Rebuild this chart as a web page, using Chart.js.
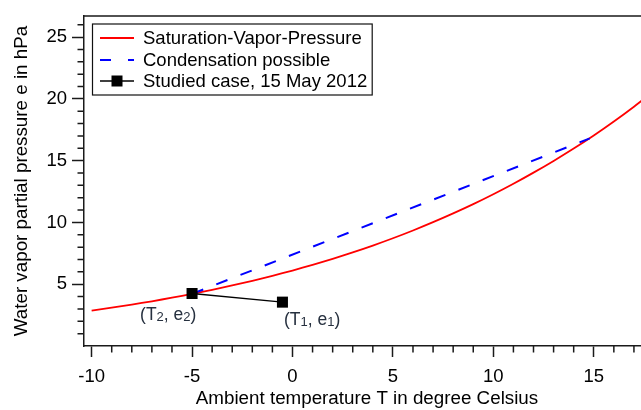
<!DOCTYPE html>
<html>
<head>
<meta charset="utf-8">
<script src="https://cdn.jsdelivr.net/npm/chart.js@4/dist/chart.umd.min.js"></script>
<style>
  html, body { margin: 0; padding: 0; background: #fff; overflow: hidden; }
  #wrap { width: 660px; height: 410px; }
</style>
</head>
<body>
<div id="wrap"><canvas id="myChart" width="660" height="410"></canvas></div>
<script>
// temperature (deg C) and saturation vapour pressure (hPa)
const satTemp = [-10, -9, -8, -7, -6, -5, -4, -3, -2, -1, 0, 1, 2, 3, 4, 5, 6, 7, 8, 9, 10, 11, 12, 13, 14, 15, 16, 17, 18];
const satPress = [2.86, 3.1, 3.35, 3.62, 3.91, 4.22, 4.55, 4.9, 5.28, 5.68, 6.11, 6.57, 7.06, 7.58, 8.13, 8.72, 9.35, 10.02, 10.73, 11.48, 12.28, 13.13, 14.03, 14.98, 15.98, 17.04, 18.17, 19.37, 20.63];

// condensation line, from the studied point up to the curve
const condTemp = [-5, 14.8];
const condPress = [4.22, 16.8];

// studied case, 15 May 2012 : (T2, e2) and (T1, e1)
const caseTemp = [-5, -0.5];
const casePress = [4.25, 3.55];

const seriesLabels = ['Saturation-Vapor-Pressure', 'Condensation possible', 'Studied case, 15 May 2012'];
const pointLabels = [['T', '2', 'e', '2'], ['T', '1', 'e', '1']];

const FONT = '"Liberation Sans", Arial, sans-serif';
const AXIS = '#1a1a1a';

function toXY(xs, ys) {
  return xs.map((x, i) => ({ x: x, y: ys[i] }));
}

// minor ticks, top frame line, legend box and point labels
const extras = {
  id: 'extras',
  afterDraw(chart) {
    const c = chart.ctx;
    const xs = chart.scales.x, ys = chart.scales.y;
    const area = chart.chartArea;
    c.save();
    c.strokeStyle = AXIS;
    c.lineWidth = 1.5;
    // minor ticks
    c.beginPath();
    for (let t = Math.ceil(xs.min); t <= xs.max; t++) {
      if (t % 5 === 0) continue;
      const px = xs.getPixelForValue(t);
      c.moveTo(px, area.bottom);
      c.lineTo(px, area.bottom + 6.5);
    }
    for (let v = 1; v <= ys.max; v++) {
      if (v % 5 === 0) continue;
      const py = ys.getPixelForValue(v);
      c.moveTo(area.left - 6.5, py);
      c.lineTo(area.left, py);
    }
    // top frame
    c.moveTo(area.left, area.top);
    c.lineTo(area.right, area.top);
    c.stroke();

    // legend
    c.font = '18.5px ' + FONT;
    let tw = 0;
    seriesLabels.forEach(s => { tw = Math.max(tw, c.measureText(s).width); });
    const bx = 92.5, by = 24, bh = 71;
    const bw = 143 - bx + tw + 5;
    c.fillStyle = '#fff';
    c.fillRect(bx, by, bw, bh);
    c.lineWidth = 1.2;
    c.strokeStyle = '#111';
    c.strokeRect(bx, by, bw, bh);
    const rows = [38, 60, 81];
    c.textBaseline = 'middle';
    c.textAlign = 'left';
    rows.forEach((ry, i) => {
      const ds = chart.data.datasets[i];
      c.strokeStyle = ds.borderColor;
      c.lineWidth = ds.borderWidth;
      c.setLineDash(i === 1 ? [11, 17] : []);
      c.beginPath();
      c.moveTo(100, ry);
      c.lineTo(134, ry);
      c.stroke();
      c.setLineDash([]);
      if (i === 2) {
        c.fillStyle = '#000';
        c.fillRect(117 - 5.5, ry - 5.5, 11, 11);
      }
      c.fillStyle = '#000';
      c.fillText(seriesLabels[i], 143, ry + 1);
    });

    // point labels with subscripts
    c.fillStyle = '#26303f';
    const offs = [[-52, 22], [1.5, 18.5]];
    pointLabels.forEach((lab, i) => {
      let x = xs.getPixelForValue(caseTemp[i]) + offs[i][0];
      const y = ys.getPixelForValue(casePress[i]) + offs[i][1];
      const big = '17.5px ' + FONT, small = '13px ' + FONT;
      const parts = [['(', big, 0], [lab[0], big, 0], [lab[1], small, 2], [', ', big, 0], [lab[2], big, 0], [lab[3], small, 2], [')', big, 0]];
      parts.forEach(p => {
        c.font = p[1];
        c.fillText(p[0], x, y + p[2]);
        x += c.measureText(p[0]).width;
      });
    });
    c.restore();
  }
};

const data = {
  datasets: [
    {
      label: seriesLabels[0],
      data: toXY(satTemp, satPress),
      borderColor: '#ff0000',
      borderWidth: 1.8,
      pointRadius: 0,
      showLine: true,
      tension: 0.3,
      order: 3
    },
    {
      label: seriesLabels[1],
      data: toXY(condTemp, condPress),
      borderColor: '#0000ff',
      borderWidth: 2,
      borderDash: [12, 14],
      pointRadius: 0,
      showLine: true,
      order: 2
    },
    {
      label: seriesLabels[2],
      data: toXY(caseTemp, casePress),
      borderColor: '#000000',
      backgroundColor: '#000000',
      borderWidth: 1.3,
      pointStyle: 'rect',
      pointRadius: 7.8,
      pointBorderWidth: 0,
      showLine: true,
      order: 1
    }
  ]
};

const config = {
  type: 'scatter',
  data: data,
  options: {
    responsive: false,
    animation: false,
    layout: { padding: { top: 13, right: 10, left: 0, bottom: 0 } },
    plugins: {
      legend: { display: false },
      tooltip: { enabled: false }
    },
    scales: {
      x: {
        type: 'linear',
        min: -10.38,
        max: 17.8,
        afterFit: s => { s.height = 64; },
        border: { display: true, color: AXIS, width: 1.5 },
        grid: { drawOnChartArea: false, drawTicks: true, tickLength: 11, tickColor: AXIS, tickWidth: 1.5 },
        ticks: {
          stepSize: 5,
          includeBounds: false,
          color: '#000',
          padding: 9,
          maxRotation: 0,
          font: { family: FONT, size: 18.5 }
        },
        title: {
          display: true,
          text: 'Ambient temperature T in degree Celsius',
          color: '#000',
          font: { family: FONT, size: 18.8 },
          padding: { top: 0, bottom: 0 }
        }
      },
      y: {
        type: 'linear',
        min: 0,
        max: 26.7,
        afterFit: s => { s.width = 84; },
        border: { display: true, color: AXIS, width: 1.5 },
        grid: {
          drawOnChartArea: false,
          drawTicks: true,
          tickLength: 12,
          tickColor: ctx => (ctx.tick && ctx.tick.value === 0 ? 'rgba(0,0,0,0)' : AXIS),
          tickWidth: 1.5
        },
        ticks: {
          stepSize: 5,
          includeBounds: false,
          color: '#000',
          padding: 5,
          font: { family: FONT, size: 18.5 },
          callback: v => (v === 0 ? '' : v)
        },
        title: {
          display: true,
          text: 'Water vapor partial pressure e in hPa',
          color: '#000',
          font: { family: FONT, size: 18.8 },
          padding: { top: 11, bottom: 0 }
        }
      }
    }
  },
  plugins: [extras]
};

const ctx = document.getElementById('myChart').getContext('2d');
const myChart = new Chart(ctx, config);
</script>
</body>
</html>
